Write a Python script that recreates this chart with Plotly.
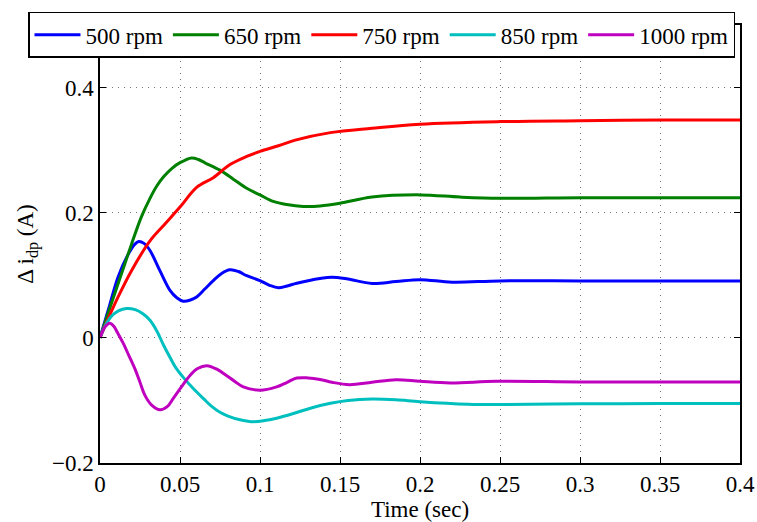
import plotly.graph_objects as go

# ---- data ----
t500 = [0, 0.006, 0.01125, 0.0175, 0.0215, 0.0242, 0.0275, 0.03125, 0.0375, 0.04375, 0.048, 0.052, 0.0565, 0.0604, 0.0655, 0.0708, 0.076, 0.08125, 0.0865, 0.0917, 0.1, 0.106, 0.1115, 0.117, 0.123, 0.1375, 0.145, 0.155, 0.17, 0.185, 0.2, 0.22, 0.25, 0.3, 0.35, 0.4]
v500 = [0, 0.052, 0.097, 0.133, 0.149, 0.154, 0.151, 0.1396, 0.107, 0.0758, 0.064, 0.0586, 0.0605, 0.0654, 0.078, 0.0915, 0.103, 0.1088, 0.106, 0.0993, 0.0915, 0.084, 0.08, 0.083, 0.0873, 0.095, 0.097, 0.094, 0.087, 0.09, 0.093, 0.089, 0.091, 0.091, 0.091, 0.091]

t650 = [0, 0.005, 0.01125, 0.0155, 0.0196, 0.0258, 0.03125, 0.0356, 0.0396, 0.045, 0.05, 0.0573, 0.0615, 0.0656, 0.075, 0.0833, 0.0917, 0.1, 0.1083, 0.1167, 0.127, 0.1375, 0.15, 0.17, 0.2, 0.225, 0.25, 0.3, 0.35, 0.4]
v650 = [0, 0.039, 0.086, 0.118, 0.149, 0.193, 0.223, 0.243, 0.257, 0.271, 0.28, 0.2876, 0.285, 0.2797, 0.268, 0.2536, 0.239, 0.2285, 0.218, 0.213, 0.21, 0.2107, 0.215, 0.225, 0.2285, 0.225, 0.223, 0.224, 0.224, 0.224]

t750 = [0, 0.005, 0.01125, 0.0196, 0.03125, 0.0406, 0.05, 0.0604, 0.0708, 0.08125, 0.0917, 0.1, 0.1115, 0.122, 0.144, 0.17, 0.2, 0.25, 0.3, 0.35, 0.4]
v750 = [0, 0.03, 0.065, 0.107, 0.155, 0.182, 0.209, 0.2405, 0.256, 0.277, 0.29, 0.298, 0.307, 0.316, 0.328, 0.335, 0.3415, 0.3456, 0.347, 0.348, 0.348]

t850 = [0, 0.003, 0.007, 0.0115, 0.0165, 0.022, 0.027, 0.03125, 0.0355, 0.0396, 0.0437, 0.0479, 0.053, 0.0583, 0.065, 0.07, 0.075, 0.08, 0.0875, 0.0948, 0.103, 0.111, 0.122, 0.132, 0.144, 0.155, 0.17, 0.185, 0.2, 0.23, 0.25, 0.3, 0.35, 0.4]
v850 = [0, 0.018, 0.034, 0.043, 0.047, 0.045, 0.038, 0.028, 0.011, -0.011, -0.031, -0.0497, -0.066, -0.081, -0.098, -0.11, -0.119, -0.125, -0.131, -0.134, -0.132, -0.128, -0.12, -0.112, -0.1046, -0.1, -0.0978, -0.099, -0.102, -0.106, -0.1065, -0.1055, -0.105, -0.105]

t1000 = [0, 0.003, 0.006, 0.0085, 0.011, 0.0144, 0.018, 0.0219, 0.025, 0.028, 0.0325, 0.0375, 0.042, 0.0458, 0.051, 0.05625, 0.061, 0.0667, 0.073, 0.079, 0.0845, 0.0896, 0.1, 0.1104, 0.117, 0.123, 0.13, 0.1375, 0.145, 0.156, 0.17, 0.185, 0.2, 0.219, 0.248, 0.3, 0.35, 0.4]
v1000 = [0, 0.017, 0.0235, 0.019, 0.008, -0.008, -0.028, -0.05, -0.071, -0.0915, -0.108, -0.115, -0.11, -0.0967, -0.078, -0.06, -0.049, -0.0444, -0.05, -0.06, -0.07, -0.0784, -0.0837, -0.0784, -0.071, -0.0643, -0.064, -0.0664, -0.071, -0.0748, -0.071, -0.067, -0.0695, -0.072, -0.0695, -0.0705, -0.0705, -0.0705]

series_names = ["500 rpm", "650 rpm", "750 rpm", "850 rpm", "1000 rpm"]
series_t = [t500, t650, t750, t850, t1000]
series_v = [v500, v650, v750, v850, v1000]
colors = ["#0000ff", "#008000", "#ff0000", "#00bfbf", "#bf00bf"]

x_ticks = [0, 0.05, 0.1, 0.15, 0.2, 0.25, 0.3, 0.35, 0.4]
x_ticklabels = ["0", "0.05", "0.1", "0.15", "0.2", "0.25", "0.3", "0.35", "0.4"]
y_ticks = [-0.2, 0, 0.2, 0.4]
y_ticklabels = ["\u22120.2", "0", "0.2", "0.4"]

FONT = "Liberation Serif"

fig = go.Figure()
for name, t, v, c in zip(series_names, series_t, series_v, colors):
    fig.add_trace(go.Scatter(
        x=t, y=v, mode="lines", name=name,
        line=dict(color=c, width=3, shape="spline", smoothing=1.0),
    ))

axis_common = dict(
    showline=True, linecolor="black", linewidth=1.5, mirror="ticks",
    ticks="inside", ticklen=6, tickcolor="black", tickwidth=1,
    showgrid=True, gridcolor="#777777", gridwidth=1, griddash="1px,5px",
    zeroline=False, automargin=False,
    tickfont=dict(family=FONT, size=23, color="black"),
)

fig.update_xaxes(
    range=[0, 0.4], tickvals=x_ticks, ticktext=x_ticklabels,
    title=dict(text="Time (sec)", font=dict(family=FONT, size=23, color="black"), standoff=0),
    **axis_common,
)
fig.update_yaxes(
    range=[-0.2, 0.5], tickvals=y_ticks, ticktext=y_ticklabels,
    title=dict(text="\u0394 i<sub>dp</sub> (A)", font=dict(family=FONT, size=23, color="black"), standoff=12),
    **axis_common,
)

fig.update_layout(
    width=757, height=522,
    margin=dict(l=100, r=17, t=16, b=59),
    paper_bgcolor="white", plot_bgcolor="white",
    font=dict(family=FONT, color="black"),
    legend=dict(
        orientation="h", x=-0.1125, xanchor="left", y=1.03, yanchor="top",
        bgcolor="white", bordercolor="black", borderwidth=1.5,
        font=dict(family=FONT, size=23, color="black"),
        itemwidth=46,
    ),
    showlegend=True,
)

fig.write_html(
    "out.html",
    config={"displayModeBar": False},
    post_script="document.body.style.margin='0px';document.body.style.padding='0px';document.body.style.overflow='hidden';",
)
